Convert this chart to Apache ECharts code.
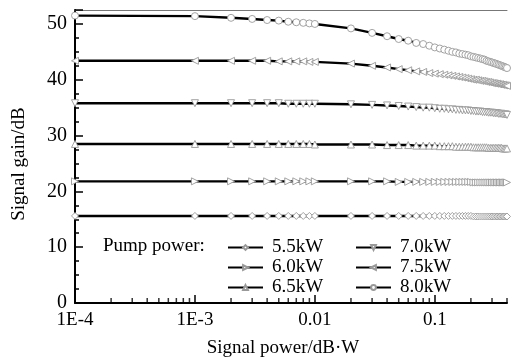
<!DOCTYPE html>
<html>
<head>
<meta charset="utf-8">
<script src="https://cdn.jsdelivr.net/npm/echarts@6/dist/echarts.min.js"></script>
<style>html,body{margin:0;padding:0;background:#fff;}#c{width:512px;height:363px;}</style>
</head>
<body>
<div id="c"></div>
<script>
// Signal power (W)
const xPower = [0.0001,0.001,0.002,0.003,0.004,0.005,0.006,0.007,0.008,0.009,0.01,
  0.02,0.03,0.04,0.05,0.06,0.07,0.08,0.09,0.10,
  0.11,0.12,0.13,0.14,0.15,0.16,0.17,0.18,0.19,0.20,
  0.21,0.22,0.23,0.24,0.25,0.26,0.27,0.28,0.29,0.30,
  0.31,0.32,0.33,0.34,0.35,0.36,0.37,0.38,0.39,0.40];
const seriesNames = ['5.5kW','6.0kW','6.5kW','7.0kW','7.5kW','8.0kW'];
const g55 = [15.6,15.6,15.6,15.6,15.6,15.6,15.6,15.6,15.6,15.6,15.6,
  15.6,15.6,15.6,15.6,15.6,15.6,15.6,15.6,15.6,
  15.6,15.6,15.6,15.6,15.6,15.6,15.6,15.6,15.6,15.6,
  15.5,15.5,15.5,15.5,15.5,15.5,15.5,15.5,15.5,15.5,
  15.5,15.5,15.5,15.5,15.5,15.5,15.5,15.5,15.5,15.5];
const g60 = [21.8,21.8,21.8,21.8,21.8,21.8,21.8,21.8,21.8,21.8,21.8,
  21.8,21.8,21.8,21.7,21.7,21.7,21.7,21.7,21.7,
  21.7,21.7,21.7,21.7,21.7,21.7,21.7,21.7,21.7,21.7,
  21.6,21.6,21.6,21.6,21.6,21.6,21.6,21.6,21.6,21.6,
  21.6,21.6,21.6,21.6,21.6,21.6,21.6,21.6,21.6,21.6];
const g65 = [28.5,28.5,28.5,28.5,28.5,28.5,28.5,28.5,28.5,28.5,28.4,
  28.4,28.4,28.3,28.3,28.3,28.2,28.2,28.2,28.2,
  28.1,28.1,28.1,28.1,28.0,28.0,28.0,28.0,28.0,28.0,
  27.9,27.9,27.9,27.9,27.9,27.9,27.9,27.8,27.8,27.8,
  27.8,27.8,27.8,27.8,27.8,27.8,27.7,27.7,27.7,27.7];
const g70 = [35.8,35.8,35.8,35.8,35.8,35.8,35.7,35.7,35.7,35.7,35.7,
  35.6,35.5,35.4,35.3,35.2,35.1,35.0,35.0,34.9,
  34.8,34.8,34.7,34.7,34.6,34.6,34.5,34.5,34.5,34.4,
  34.4,34.3,34.3,34.3,34.2,34.2,34.2,34.1,34.1,34.1,
  34.0,34.0,34.0,33.9,33.9,33.9,33.8,33.8,33.8,33.7];
const g75 = [43.4,43.4,43.4,43.4,43.4,43.3,43.3,43.3,43.3,43.2,43.2,
  42.9,42.5,42.2,41.9,41.7,41.5,41.4,41.2,41.1,
  41.0,40.9,40.8,40.7,40.6,40.5,40.4,40.3,40.2,40.1,
  40.0,40.0,39.9,39.8,39.8,39.7,39.6,39.6,39.5,39.4,
  39.4,39.3,39.3,39.2,39.2,39.1,39.1,39.0,39.0,38.9];
const g80 = [51.5,51.4,51.1,50.9,50.7,50.6,50.4,50.3,50.2,50.1,50.0,
  49.2,48.4,47.8,47.3,47.0,46.6,46.4,46.1,45.8,
  45.6,45.4,45.2,45.0,44.9,44.7,44.6,44.5,44.4,44.2,
  44.1,44.0,43.9,43.8,43.7,43.6,43.4,43.3,43.2,43.1,
  43.0,42.9,42.8,42.7,42.6,42.5,42.4,42.3,42.2,42.1];
const xTickValues = [0.0001,0.001,0.01,0.1];
const xTickLabels = ['1E-4','1E-3','0.01','0.1'];
const xMinorTicks = [0.0002,0.0003,0.0004,0.0005,0.0006,0.0007,0.0008,0.0009,
  0.002,0.003,0.004,0.005,0.006,0.007,0.008,0.009,
  0.02,0.03,0.04,0.05,0.06,0.07,0.08,0.09,0.2,0.3,0.4];

const allGains = [g55,g60,g65,g70,g75,g80];
const symbols = ['diamond','triangle','triangle','triangle','triangle','circle'];
const rotations = [0,-90,0,180,90,0];
const FONT = 'Liberation Serif';

const series = seriesNames.map((name,i)=>({
  name: name, type:'line', xAxisIndex:0, yAxisIndex:0,
  data: xPower.map((x,j)=>[x, allGains[i][j]]),
  symbol: symbols[i], symbolRotate: rotations[i], symbolSize: 7,
  showAllSymbol: true,
  lineStyle:{color:'#000', width:2.4},
  itemStyle:{color:'#fff', borderColor:'#999', borderWidth:0.9},
  emphasis:{disabled:true}, z: 3
}));
series.push({
  type:'scatter', xAxisIndex:0, yAxisIndex:0, silent:true,
  data: xMinorTicks.map(x=>[x,0]),
  symbol:'rect', symbolSize:[1.5,5], symbolOffset:[0,-2.5],
  itemStyle:{color:'#000'}, clip:false, z: 4
});

const legendCommon = {
  orient:'vertical', top:233, itemWidth:35, itemHeight:6, itemGap:1,
  textStyle:{color:'#000', fontFamily:FONT, fontSize:19, lineHeight:19, padding:[0,0,0,4]}
};

const chart = echarts.init(document.getElementById('c'));
chart.setOption({
  animation:false,
  backgroundColor:'#fff',
  grid:{left:75, right:5, top:10, bottom:60},
  xAxis:[{
    type:'log', logBase:10, min:0.0001, max:0.4,
    axisLine:{lineStyle:{color:'#000', width:2}},
    axisTick:{inside:true, length:8, lineStyle:{color:'#000', width:1.5}},
    splitLine:{show:false},
    axisLabel:{color:'#000', fontFamily:FONT, fontSize:19, margin:8, showMaxLabel:false,
      formatter:function(v){
        for (let k=0;k<xTickValues.length;k++){
          if (Math.abs(Math.log10(v)-Math.log10(xTickValues[k]))<1e-6) return xTickLabels[k];
        }
        return '';
      }},
    name:'Signal power/dB·W', nameLocation:'middle', nameGap:36,
    nameTextStyle:{color:'#000', fontFamily:FONT, fontSize:19, padding:[0,16,0,0]}
  },{
    type:'value', position:'top', min:0, max:1,
    axisLine:{show:true, onZero:false, lineStyle:{color:'#777', width:1}},
    axisTick:{show:false}, axisLabel:{show:false}, splitLine:{show:false}
  }],
  yAxis:[{
    type:'value', min:0, max:52.5, interval:10,
    axisLine:{lineStyle:{color:'#000', width:2}},
    axisTick:{inside:true, length:8, lineStyle:{color:'#000', width:1.5}},
    minorTick:{show:true, splitNumber:4, length:4, lineStyle:{color:'#000', width:1.5}},
    splitLine:{show:false},
    axisLabel:{color:'#000', fontFamily:FONT, fontSize:20, margin:8, showMaxLabel:false},
    name:'Signal gain/dB', nameLocation:'middle', nameGap:46, nameRotate:90,
    nameTextStyle:{color:'#000', fontFamily:FONT, fontSize:19, padding:[0,0,0,-15]}
  }],
  legend:[
    Object.assign({data:seriesNames.slice(0,3), left:222}, legendCommon),
    Object.assign({data:seriesNames.slice(3,6), left:350}, legendCommon)
  ],
  graphic:[{
    type:'text', left:103, top:237,
    style:{text:'Pump power:', fill:'#000', font:'19px "Liberation Serif"'}
  }],
  series: series
});
</script>
</body>
</html>
